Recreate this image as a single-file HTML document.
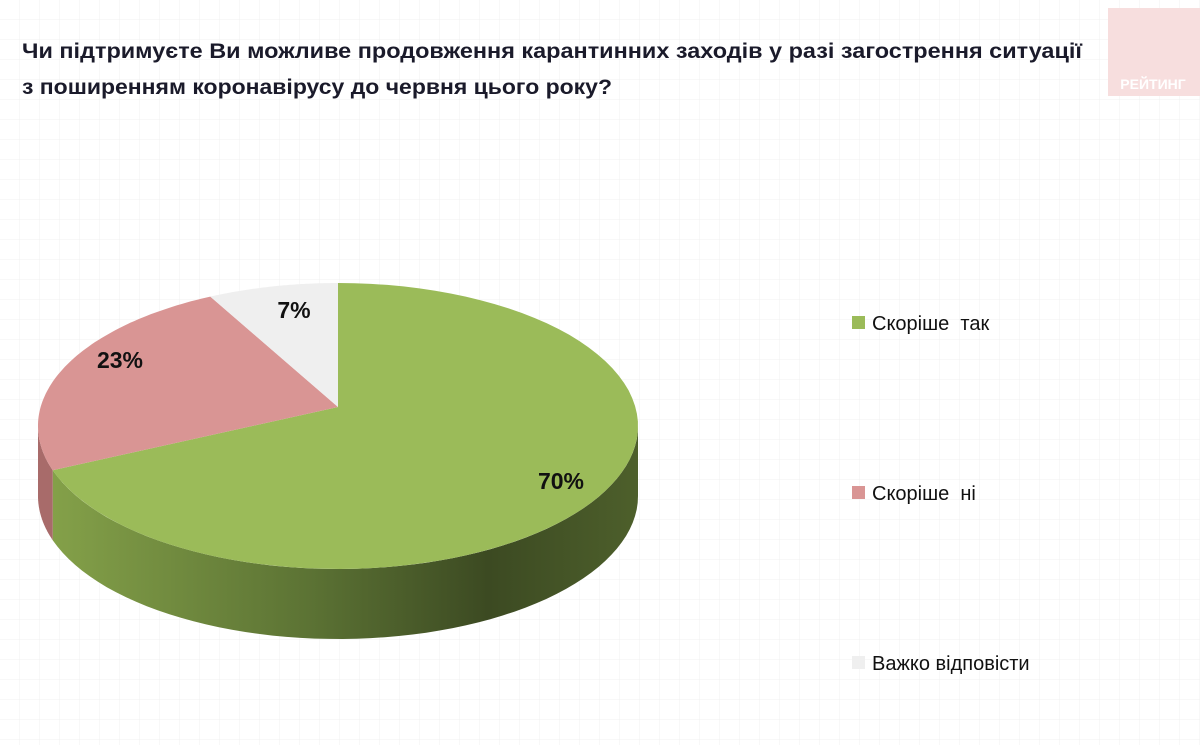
<!DOCTYPE html>
<html><head><meta charset="utf-8"><style>
body{margin:0;width:1200px;height:745px;overflow:hidden;background:#fff;font-family:"Liberation Sans",sans-serif;}
</style></head><body>
<svg width="1200" height="745" viewBox="0 0 1200 745">
<defs>
<pattern id="grid" width="20" height="20" patternUnits="userSpaceOnUse"><path d="M20 0V20H0" fill="none" stroke="#f0f0f0" stroke-width="1"/></pattern>
<linearGradient id="sideG" x1="38" x2="638" y1="0" y2="0" gradientUnits="userSpaceOnUse">
<stop offset="0" stop-color="#86a34a"/><stop offset="0.45" stop-color="#5c7334"/><stop offset="0.75" stop-color="#3c4a22"/><stop offset="1" stop-color="#4d5f2b"/></linearGradient>
</defs>
<rect width="1200" height="745" fill="url(#grid)"/>
<rect x="1108" y="8" width="92" height="88" fill="#f7dede"/>
<text x="1153" y="89" text-anchor="middle" font-size="14" font-weight="bold" fill="#fff">РЕЙТИНГ</text>
<text x="22" y="58" font-size="21" font-weight="bold" fill="#1a1a2a" textLength="1060" lengthAdjust="spacingAndGlyphs">Чи підтримуєте Ви можливе продовження карантинних заходів у разі загострення ситуації</text>
<text x="22" y="94" font-size="21" font-weight="bold" fill="#1a1a2a" textLength="590" lengthAdjust="spacingAndGlyphs">з поширенням коронавірусу до червня цього року?</text>
<g id="pie"></g>
<g id="legend"></g>
</svg>
<script>
const categories=["Скоріше  так","Скоріше  ні","Важко відповісти"];
const values=[70,23,7];
const labels=["70%","23%","7%"];
const colors=["#9bbb59","#d99594","#efefef"];
const NS="http://www.w3.org/2000/svg";
const cx=338,cy=426,rx=300,ry=143,ax=338,ay=407,depth=70;
const pie=document.getElementById('pie');
function pt(a,dy){return [cx+rx*Math.sin(a),cy-ry*Math.cos(a)+(dy||0)];}
const total=values.reduce((a,b)=>a+b,0);
let start=0;const angs=[];
values.forEach(v=>{const e=start+v/total*2*Math.PI;angs.push([start,e]);start=e;});
angs.forEach((ae,i)=>{
  const s=Math.max(ae[0],Math.PI/2),e=Math.min(ae[1],3*Math.PI/2);
  if(e<=s)return;
  let d="";const n=60;
  for(let k=0;k<=n;k++){const a=s+(e-s)*k/n;const p=pt(a);d+=(k?"L":"M")+p[0].toFixed(1)+" "+p[1].toFixed(1);}
  for(let k=n;k>=0;k--){const a=s+(e-s)*k/n;const p=pt(a,depth);d+="L"+p[0].toFixed(1)+" "+p[1].toFixed(1);}
  const el=document.createElementNS(NS,'path');el.setAttribute('d',d+"Z");
  el.setAttribute('fill',i===0?'url(#sideG)':'#a86b6a');
  
  
  pie.appendChild(el);
});
const labelPos=[[561,483],[120,362],[294,312]];
angs.forEach((ae,i)=>{
  let d="M"+ax+" "+ay;const n=80;
  for(let k=0;k<=n;k++){const a=ae[0]+(ae[1]-ae[0])*k/n;const p=pt(a);d+="L"+p[0].toFixed(1)+" "+p[1].toFixed(1);}
  const el=document.createElementNS(NS,'path');el.setAttribute('d',d+"Z");el.setAttribute('fill',colors[i]);
  
  
  pie.appendChild(el);
  const mid=(ae[0]+ae[1])/2;const f=0.72;
  const p=[ax+(pt(mid)[0]-ax)*f,ay+(pt(mid)[1]-ay)*f];
  const t=document.createElementNS(NS,'text');
  const lp=labelPos[i]||p;
  t.setAttribute('x',lp[0]);t.setAttribute('y',lp[1]);t.setAttribute('text-anchor','middle');t.setAttribute('dominant-baseline','middle');
  t.setAttribute('font-size','23');t.setAttribute('font-weight','bold');t.setAttribute('fill','#111');
  t.textContent=labels[i];
  
  
  pie.appendChild(t);
});
const lg=document.getElementById('legend');
categories.forEach((c,i)=>{
  const y=322+i*170;
  const r=document.createElementNS(NS,'rect');r.setAttribute('x',852);r.setAttribute('y',y-6);r.setAttribute('width',13);r.setAttribute('height',13);r.setAttribute('fill',colors[i]);
  
  
  lg.appendChild(r);
  const t=document.createElementNS(NS,'text');t.setAttribute('x',872);t.setAttribute('y',y+8);t.setAttribute('font-size','20');t.setAttribute('fill','#111');
  t.setAttribute('xml:space','preserve');t.style.whiteSpace='pre';
  t.textContent=c;
  
  
  lg.appendChild(t);
});
</script>
</body></html>
